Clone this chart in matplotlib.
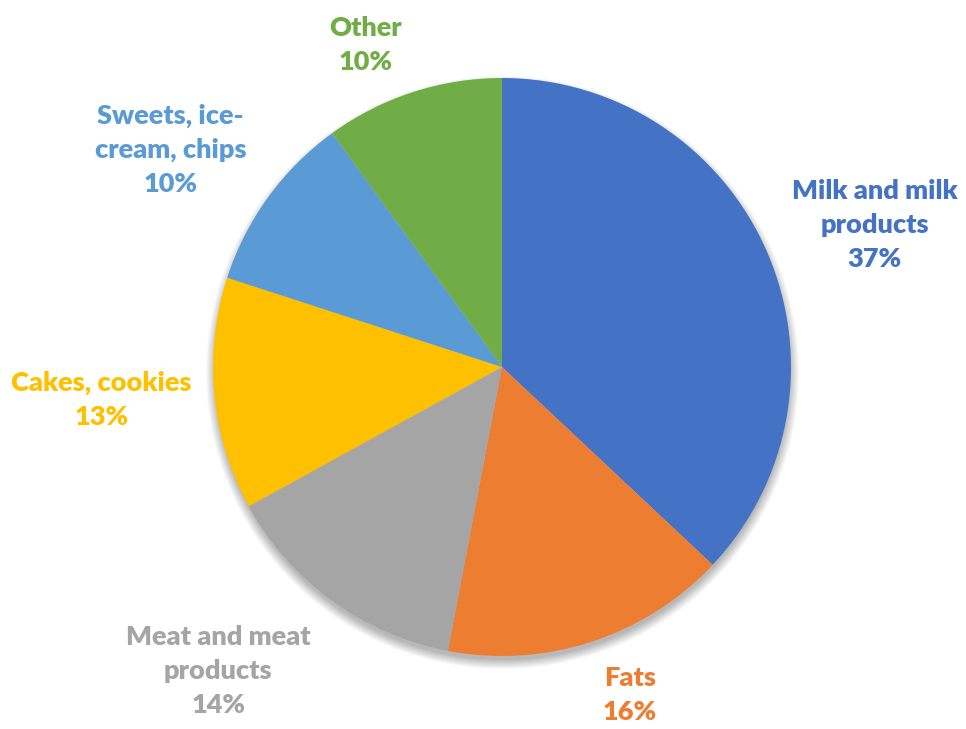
import numpy as np
import matplotlib
matplotlib.use("Agg")
import matplotlib.pyplot as plt

categories = ["Milk and milk\nproducts", "Fats", "Meat and meat\nproducts",
              "Cakes, cookies", "Sweets, ice-\ncream, chips", "Other"]
shares = [37, 16, 14, 13, 10, 10]
colors = ["#4472C4", "#ED7D31", "#A5A5A5", "#FFC000", "#5B9BD5", "#70AD47"]

# label placement: (distance in radii, angle offset in degrees) per slice
label_place = [(1.38, -2.5), (1.22, 3.3), (1.44, -7.0), (1.39, -0.7), (1.37, 2.8), (1.21, 5.0)]

W, H = 966, 729
cx, cy, r = 502, H - 367, 289

fig = plt.figure(figsize=(W / 100, H / 100), dpi=100)
ax = fig.add_axes([0, 0, 1, 1])

# soft drop shadow under the pie
yy, xx = np.mgrid[0:H, 0:W]
d = np.hypot(xx - cx, (H - yy) - (cy - 5)) - r
alpha = np.clip(1 - (d + 2) / 10, 0, 1) * 0.28
shadow = np.zeros((H, W, 4))
shadow[..., 3] = alpha
ax.imshow(shadow, extent=(0, W, 0, H), origin="upper", zorder=0)

wedges, _ = ax.pie(shares, colors=colors, startangle=90, counterclock=False,
                   center=(cx, cy), radius=r, frame=True,
                   wedgeprops=dict(linewidth=0))
ax.set_xlim(0, W)
ax.set_ylim(0, H)
ax.set_aspect("equal")
ax.axis("off")

for w, name, val, col, (dist, dang) in zip(wedges, categories, shares, colors, label_place):
    ang = np.deg2rad((w.theta1 + w.theta2) / 2 + dang)
    x = cx + dist * r * np.cos(ang)
    y = cy + dist * r * np.sin(ang)
    ax.text(x, y, f"{name}\n{val}%", color=col, fontsize=19.5, fontweight="heavy",
            family="Lato", ha="center", va="center", linespacing=1.5)

plt.savefig("out.png", dpi=100)
